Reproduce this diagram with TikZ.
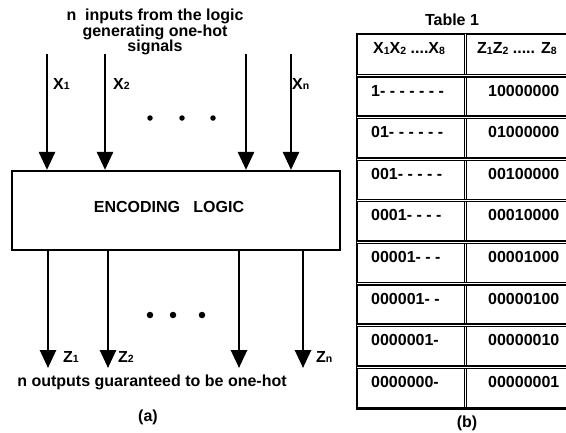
\documentclass[tikz,border=0pt]{standalone}
\usepackage{fontspec}
\setmainfont{Liberation Sans}
\usetikzlibrary{arrows.meta}
\newcommand{\sbs}[1]{\raisebox{-0.8pt}{\fontsize{10.5}{10.5}\selectfont #1}}
\begin{document}
\begin{tikzpicture}[x=1pt,y=-1pt,
 txt/.style={font=\fontsize{16}{15.5}\selectfont\bfseries, inner sep=0pt},
 arr/.style={line width=2.7pt, -{Triangle[width=16pt,length=18pt]}},
 dotA/.style={circle, fill, inner sep=0pt, minimum size=5.5pt},
 dline/.style={line width=1.6pt, double, double distance=0.6pt},
 sline/.style={line width=2.8pt}]
\useasboundingbox (0,0) rectangle (566,432);
\clip (0,0) rectangle (566,432);

% encoding box
\node[draw, line width=2.2pt, minimum width=328pt, minimum height=79pt, inner sep=0pt] (box) at (176,210.5) {};
\node[txt] (enc) at (169,207) {ENCODING\ \ \ LOGIC};

% top text
\node[txt, align=center] (top) at (155,32) {n\ \ inputs from the logic\\generating one-hot\\signals};

% input arrows
\foreach \n/\x in {i1/47,i2/105,i3/246,i4/291} \coordinate (\n) at (\x,54);
\foreach \n in {i1,i2,i3,i4} \draw[arr] (\n) -- (\n |- box.north);
\node[txt, anchor=west] (x1) at (53,84) {X\sbs{1}};
\node[txt, anchor=west] (x2) at (113,84) {X\sbs{2}};
\node[txt, anchor=west] (xn) at (292,84) {X\sbs{n}};
\node[dotA] (d1) at (150,118) {};
\node[dotA] (d2) at (182,118) {};
\node[dotA] (d3) at (213,118) {};

% output arrows
\foreach \n/\x in {o1/48,o2/108,o3/239,o4/303} \coordinate (\n) at (\x,368);
\foreach \n in {o1,o2,o3,o4} \draw[arr] (\n |- box.south) -- (\n);
\node[txt, anchor=west] (z1) at (63,357) {Z\sbs{1}};
\node[txt, anchor=west] (z2) at (118,357) {Z\sbs{2}};
\node[txt, anchor=west] (zn) at (316,357) {Z\sbs{n}};
\node[dotA, minimum size=6.5pt] (e1) at (150,315) {};
\node[dotA, minimum size=6.5pt] (e2) at (173,315) {};
\node[dotA, minimum size=6.5pt] (e3) at (202,315) {};

\node[txt] (out) at (152,382) {n outputs guaranteed to be one-hot};
\node[txt] (capa) at (148,417) {(a)};

% table
\node[txt] (ttl) at (452,20) {Table 1};
\draw[sline] (355.6,34) -- (570,34);
\draw[sline] (357,32.6) -- (357,409.9);
\draw[dline] (465.5,34) -- (465.5,408.5);
\foreach \i in {1,...,8} \draw[dline] (357,34+41.6*\i) -- (570,34+41.6*\i);
\draw[sline] (355.6,408.5) -- (570,408.5);

\node[txt, anchor=west] (h1) at (373,48.5) {X\sbs{1}X\sbs{2} ....X\sbs{8}};
\node[txt, anchor=west] (h2) at (477,48.5) {Z\sbs{1}Z\sbs{2} ..... Z\sbs{8}};
\foreach \i/\a/\b in {1/{1- - - - - - -}/10000000, 2/{01- - - - - -}/01000000, 3/{001- - - - -}/00100000, 4/{0001- - - -}/00010000, 5/{00001- - -}/00001000, 6/{000001- -}/00000100, 7/{0000001-}/00000010, 8/{0000000-}/00000001}{
  \node[txt, anchor=west] (l\i) at (371,34+41.6*\i+15) {\a};
  \node[txt, anchor=west] (r\i) at (488,34+41.6*\i+15) {\b};
}
\node[txt] (capb) at (467,423) {(b)};
\end{tikzpicture}
\end{document}
